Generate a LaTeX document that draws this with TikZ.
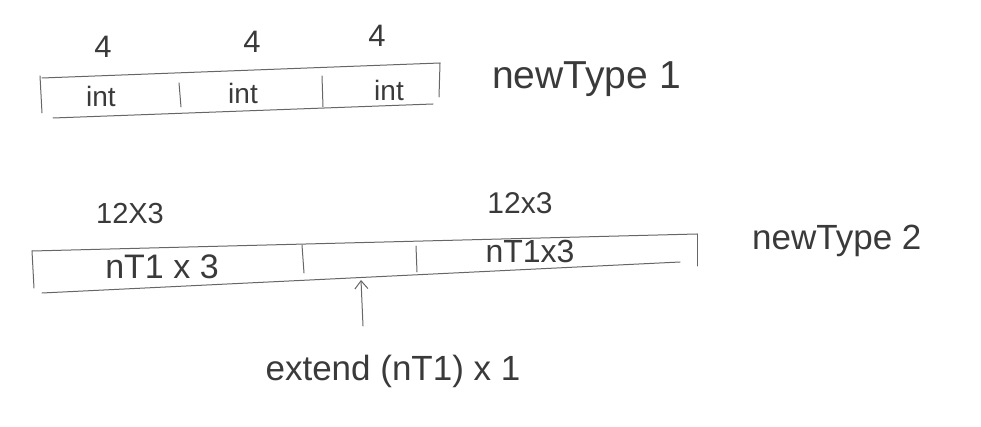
\documentclass[tikz,border=0pt]{standalone}
\usepackage{fontspec}
\setmainfont{Liberation Sans}
\usetikzlibrary{arrows.meta}
\definecolor{ink}{HTML}{3A3A3A}
\definecolor{pen}{HTML}{666666}
\begin{document}
\begin{tikzpicture}[x=1pt,y=-1pt,
  stroke/.style={draw=pen,line width=1pt,line cap=round},
  lbl/.style={text=ink,inner sep=0pt,font=\fontsize{#1}{#1}\selectfont},
  lbl/.default=26]
\useasboundingbox (0,0) rectangle (981,427);
% ---- newType 1 ----
\coordinate (a1) at (42,78);  \coordinate (a2) at (440,63);
\coordinate (b1) at (53,118); \coordinate (b2) at (433,104);
\draw[stroke] (a1) -- (a2);
\draw[stroke] (b1) -- (b2);
\draw[stroke] (40,76) -- (42,113);
\draw[stroke] (179,83) -- (181,107);
\draw[stroke] (322,76) -- (323,107);
\draw[stroke] (440,63) -- (439,97);
\node[lbl=31] (f1) at (103,47) {4};
\node[lbl=31] (f2) at (252,42) {4};
\node[lbl=31] (f3) at (377,36) {4};
\node[lbl=28] (i1) at (101,96) {int};
\node[lbl=28] (i2) at (243,93) {int};
\node[lbl=28] (i3) at (389,90) {int};
\node[lbl=39,anchor=west] (t1) at (492,79) {newType 1};
% ---- newType 2 ----
\draw[stroke] (32,251) -- (697,234);
\draw[stroke] (42,293) -- (680,262);
\draw[stroke] (32,251) -- (34,288);
\draw[stroke] (302,245) -- (304,273);
\draw[stroke] (416,246) -- (417,272);
\draw[stroke] (697,234) -- (697,266);
\node[lbl=29] (d1) at (130,214) {12X3};
\node[lbl=30] (d2) at (520,203) {12x3};
\node[lbl=34] (n1) at (162,267) {nT1 x 3};
\node[lbl=32] (n2) at (530,251) {nT1x3};
\node[lbl=35,anchor=west] (t2) at (752,241) {newType 2};
% ---- arrow ----
\node[lbl=35] (ext) at (393,371) {extend (nT1) x 1};
\coordinate (tip) at (361,280);
\draw[stroke,-{Straight Barb[length=8pt,width=13pt]}] (363,326) -- (tip);
\end{tikzpicture}
\end{document}
